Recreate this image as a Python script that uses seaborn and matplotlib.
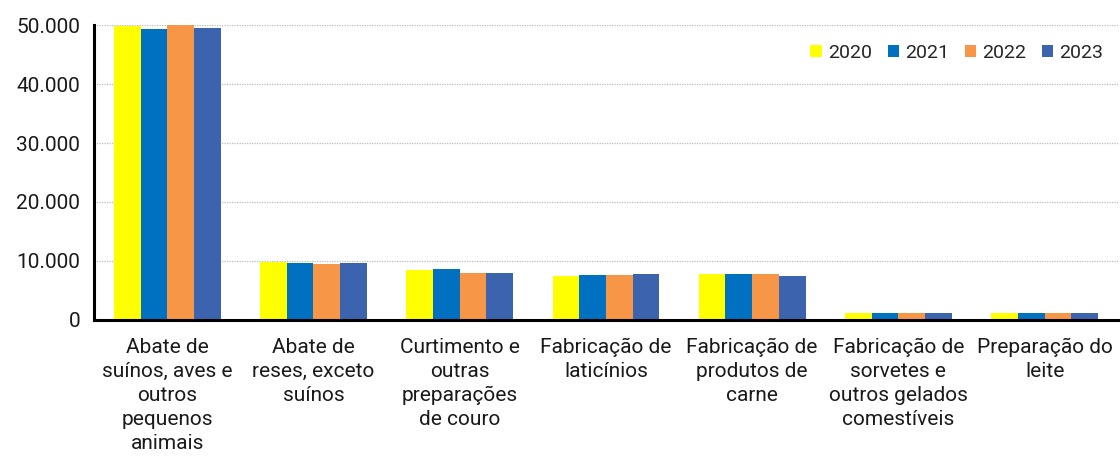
import numpy as np
import pandas as pd
import seaborn as sns
import matplotlib.pyplot as plt
from matplotlib.ticker import FuncFormatter, FixedLocator

categories = [
    "Abate de\nsuínos, aves e\noutros\npequenos\nanimais",
    "Abate de\nreses, exceto\nsuínos",
    "Curtimento e\noutras\npreparações\nde couro",
    "Fabricação de\nlaticínios",
    "Fabricação de\nprodutos de\ncarne",
    "Fabricação de\nsorvetes e\noutros gelados\ncomestíveis",
    "Preparação do\nleite",
]
years = ["2020", "2021", "2022", "2023"]
v2020 = [49800, 9880, 8470, 7510, 7800, 1100, 1100]
v2021 = [49370, 9710, 8640, 7630, 7800, 1220, 1220]
v2022 = [49950, 9490, 7970, 7630, 7780, 1220, 1150]
v2023 = [49430, 9610, 7970, 7800, 7460, 1220, 1220]
colors = ["#FFFF00", "#0070C0", "#F79646", "#3C64AE"]

df = pd.DataFrame({
    "categoria": categories * 4,
    "ano": sum([[y] * len(categories) for y in years], []),
    "valor": v2020 + v2021 + v2022 + v2023,
})

sns.set_theme(style="white")
plt.rcParams["font.family"] = ["Roboto", "DejaVu Sans"]

fig = plt.figure(figsize=(11.2, 4.57), dpi=100)
ax = fig.add_axes([0.084, 0.300, 0.914, 0.645])

sns.barplot(data=df, x="categoria", y="valor", hue="ano", palette=colors,
            width=0.73, gap=0.0, ax=ax, saturation=1, edgecolor="none", linewidth=0)

ax.set_xlim(-0.5, len(categories) - 0.5)
ax.set_ylim(0, 50000)
ax.set_yticks(np.arange(0, 50001, 10000))
ax.yaxis.set_major_formatter(FuncFormatter(lambda v, p: f"{int(v):,}".replace(",", ".")))
ax.grid(axis="y", color="#bdbdbd", linestyle=(0, (1, 1)), linewidth=0.9)
ax.set_axisbelow(True)

ax.xaxis.set_minor_locator(FixedLocator(np.arange(-0.5, len(categories), 1.0)))
ax.tick_params(axis="x", which="major", length=0, pad=13, labelsize=15, colors="#1a1a1a")
ax.tick_params(axis="x", which="minor", length=6, width=2, color="black", direction="out")
ax.tick_params(axis="y", length=6, width=2, color="black", direction="out", labelsize=15,
               labelcolor="#1a1a1a", pad=4)
for lbl in ax.get_xticklabels():
    lbl.set_linespacing(1.33)

for side in ["top", "right"]:
    ax.spines[side].set_visible(False)
for side in ["left", "bottom"]:
    ax.spines[side].set_linewidth(2.2)
    ax.spines[side].set_color("black")

ax.set_xlabel("")
ax.set_ylabel("")

leg = ax.legend(title=None, loc="upper right", bbox_to_anchor=(0.997, 0.975), ncol=4, frameon=False,
                fontsize=14, handlelength=0.6, handleheight=0.6, handletextpad=0.3,
                columnspacing=0.8, borderaxespad=0.2)

fig.savefig("out.png", dpi=100)
